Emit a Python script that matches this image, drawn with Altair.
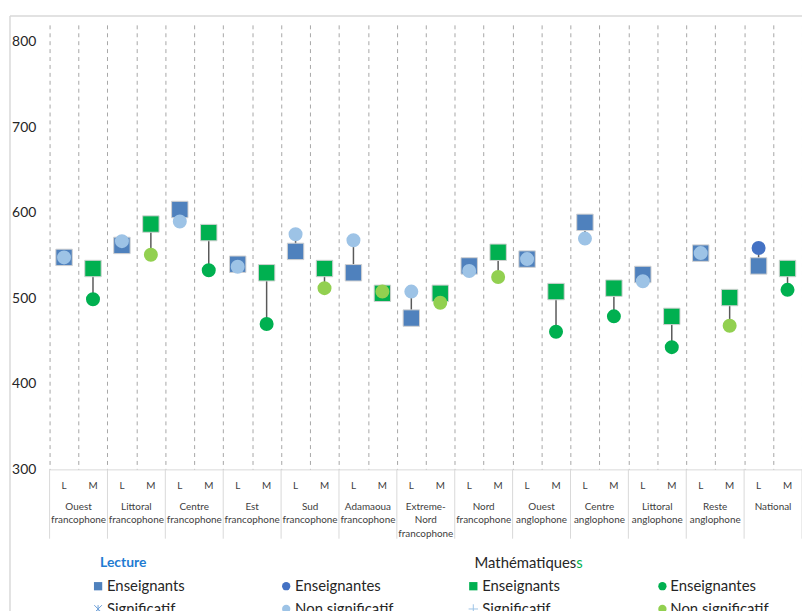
import altair as alt
import pandas as pd

# ---------------- data ----------------
groups = [
    "Ouest\nfrancophone", "Littoral\nfrancophone", "Centre\nfrancophone",
    "Est\nfrancophone", "Sud\nfrancophone", "Adamaoua\nfrancophone",
    "Extreme-\nNord\nfrancophone", "Nord\nfrancophone", "Ouest\nanglophone",
    "Centre\nanglophone", "Littoral\nanglophone", "Reste\nanglophone", "National",
]
subjects = ["L", "M"]

lecture_enseignants = [548, 562, 604, 540, 555, 530, 477, 538, 546, 589, 528, 553, 538]
lecture_enseignantes = [548, 567, 590, 537, 575, 568, 508, 532, 546, 570, 520, 553, 559]
lecture_significatif = [False, False, False, False, False, False, False, False, False, False, False, False, True]

maths_enseignants = [535, 587, 577, 530, 535, 506, 506, 554, 508, 512, 479, 501, 535]
maths_enseignantes = [499, 551, 533, 470, 512, 508, 495, 525, 461, 479, 443, 468, 510]
maths_significatif = [True, False, True, True, False, False, False, False, True, True, True, False, True]

y_ticks = [300, 400, 500, 600, 700, 800]

legend_titles = ["Lecture", "Mathématiques", "s"]
legend_lecture = ["Enseignants", "Enseignantes", "Significatif", "Non significatif"]
legend_maths = ["Enseignants", "Enseignantes", "Significatif", "Non significatif"]

# ---------------- tables ----------------
rows = []
for g, name in enumerate(groups):
    for s, subj in enumerate(subjects):
        if subj == "L":
            ens, enses, sig = lecture_enseignants[g], lecture_enseignantes[g], lecture_significatif[g]
        else:
            ens, enses, sig = maths_enseignants[g], maths_enseignantes[g], maths_significatif[g]
        rows.append(dict(
            slot=2 * g + s + 0.5, subj=subj, ens=ens, enses=enses,
            sq=f"{subj} Enseignants",
            ci=f"{subj} Enseignantes {'sig' if sig else 'ns'}",
        ))
df = pd.DataFrame(rows)
grp_df = pd.DataFrame({"slot": [2 * g + 1 for g in range(len(groups))], "group": groups})
sep_df = pd.DataFrame({"slot": [2 * g for g in range(len(groups) + 1)]})
one = pd.DataFrame({"a": [0]})

FONT = "Lato"
n_slots = 2 * len(groups)

color_scale = alt.Scale(
    domain=["L Enseignants", "L Enseignantes sig", "L Enseignantes ns",
            "M Enseignants", "M Enseignantes sig", "M Enseignantes ns"],
    range=["#4F81BD", "#4472C4", "#9DC3E6", "#00B050", "#00B050", "#92D050"],
)

X = alt.X(
    "slot:Q",
    scale=alt.Scale(domain=[0, n_slots], nice=False, zero=False),
    axis=alt.Axis(values=list(range(n_slots + 1)), grid=True, gridDash=[4, 4],
                  gridColor="#a6a6a6", gridWidth=1, labels=False, ticks=False,
                  domain=True, domainColor="#d9d9d9", domainWidth=1, title=None),
)
yscale = alt.Scale(domain=[300, 820], nice=False, zero=False)
Y_AXIS = alt.Axis(values=y_ticks, grid=False, domain=False, ticks=False,
                  labelFontSize=14, labelPadding=14, labelColor="#262626",
                  labelFont=FONT, title=None)

base = alt.Chart(df)

stems = base.mark_rule(color="#595959", strokeWidth=1.5).encode(
    x=X, y=alt.Y("ens:Q", scale=yscale, axis=Y_AXIS), y2="enses:Q")

squares = base.mark_point(shape="square", filled=True, size=275, opacity=1,
                          stroke="#d0d0d0", strokeWidth=1).encode(
    x=X, y=alt.Y("ens:Q", scale=yscale, axis=Y_AXIS),
    fill=alt.Fill("sq:N", scale=color_scale, legend=None))

circles = base.mark_circle(size=200, opacity=1).encode(
    x=X, y=alt.Y("enses:Q", scale=yscale, axis=Y_AXIS),
    color=alt.Color("ci:N", scale=color_scale, legend=None))

sub_labels = base.mark_text(fontSize=10, font=FONT, color="#404040").encode(
    x=X, y=alt.value(466), text="subj:N")

grp_labels = alt.Chart(grp_df).mark_text(
    fontSize=10, font=FONT, color="#404040", baseline="top",
    lineBreak="\n", lineHeight=13.5).encode(
    x=X, y=alt.value(482), text="group:N")

seps = alt.Chart(sep_df).mark_rule(color="#d9d9d9", strokeWidth=1).encode(
    x=X, y=alt.value(449), y2=alt.value(519))

# outer chart border (Excel chart area)
border_v = alt.Chart(one).mark_rule(color="#d9d9d9", strokeWidth=1.5).encode(
    x=alt.value(-40), y=alt.value(-9), y2=alt.value(640))
border_h = alt.Chart(one).mark_rule(color="#d9d9d9", strokeWidth=1.5).encode(
    x=alt.value(-40), x2=alt.value(800), y=alt.value(-9))

# ---------------- custom legend ----------------
title_lect = alt.Chart(one).mark_text(
    text=legend_titles[0], align="left", baseline="middle", fontSize=14,
    fontWeight="bold", font=FONT, color="#1F7BD2").encode(
    x=alt.value(51), y=alt.value(544))
title_math = alt.Chart(one).mark_text(
    text=legend_titles[1], align="right", baseline="middle", fontSize=15,
    font=FONT, color="#262626").encode(x=alt.value(532), y=alt.value(544))
title_s = alt.Chart(one).mark_text(
    text=legend_titles[2], align="left", baseline="middle", fontSize=15,
    font=FONT, color="#00B050").encode(x=alt.value(532), y=alt.value(544))

col_marker = [49, 239, 428, 619]
col_text = [58, 248, 437, 627]
row_y = [567, 590]
leg_rows = []
labels = [legend_lecture[0], legend_lecture[1], legend_maths[0], legend_maths[1],
          legend_lecture[2], legend_lecture[3], legend_maths[2], legend_maths[3]]
for i, lab in enumerate(labels):
    leg_rows.append(dict(label=lab, tx=col_text[i % 4], ty=row_y[i // 4]))
leg_df = pd.DataFrame(leg_rows)
leg_text = alt.Chart(leg_df).mark_text(
    align="left", baseline="middle", fontSize=15, font=FONT, color="#262626").encode(
    x=alt.X("tx:Q", scale=None), y=alt.Y("ty:Q", scale=None), text="label:N")


def mk(px, py, **kw):
    return alt.Chart(one).mark_point(opacity=1, **kw).encode(
        x=alt.value(px), y=alt.value(py))


star_path = "M-1,-1L1,1M-1,1L1,-1M0,-1L0,1"
plus_path = "M-1,0L1,0M0,-1L0,1"
leg_marks = [
    mk(col_marker[0], row_y[0], shape="square", filled=True, size=70, color="#4F81BD"),
    mk(col_marker[1], row_y[0], shape="circle", filled=True, size=70, color="#4472C4"),
    mk(col_marker[2], row_y[0], shape="square", filled=True, size=70, color="#00B050"),
    mk(col_marker[3], row_y[0], shape="circle", filled=True, size=70, color="#00B050"),
    mk(col_marker[0], row_y[1], shape=star_path, filled=False, size=60, color="#6C9FD8", strokeWidth=1),
    mk(col_marker[1], row_y[1], shape="circle", filled=True, size=70, color="#9DC3E6"),
    mk(col_marker[2], row_y[1], shape=plus_path, filled=False, size=90, color="#9DC3E6", strokeWidth=1),
    mk(col_marker[3], row_y[1], shape="circle", filled=True, size=70, color="#92D050"),
]

chart = alt.layer(
    border_v, border_h, seps, stems, squares, circles, sub_labels, grp_labels,
    title_lect, title_math, title_s, leg_text, *leg_marks,
).properties(
    width=760, height=449,
    autosize=alt.AutoSizeParams(type="none"),
    padding={"left": 42, "top": 14, "right": 0, "bottom": 140},
).configure_view(stroke=None).configure_text(font=FONT)

chart.save("out.html", embed_options={"renderer": "svg", "actions": False})
